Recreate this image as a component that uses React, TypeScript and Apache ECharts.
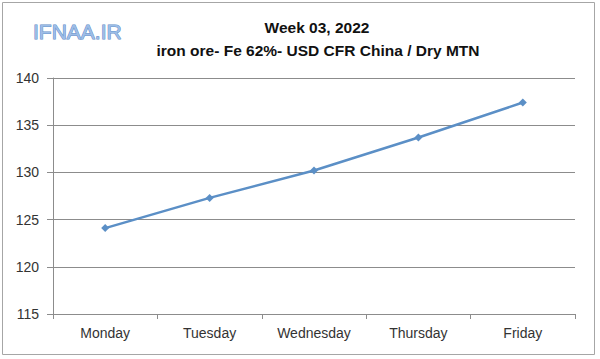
import React, { useEffect, useRef } from "react";
import * as echarts from "echarts";

const categories = ["Monday", "Tuesday", "Wednesday", "Thursday", "Friday"];
const prices = [124.1, 127.3, 130.2, 133.7, 137.4];
const yMin = 115;
const yMax = 140;
const yStep = 5;
const titleText = "Week 03, 2022";
const subtitleText = "iron ore- Fe 62%- USD CFR China / Dry MTN";
const logoText = "IFNAA.IR";

export default function App() {
  const ref = useRef<HTMLDivElement>(null);
  useEffect(() => {
    document.body.style.margin = "0";
    const chart = echarts.init(ref.current!, null, { renderer: "svg" });
    const font = "'Liberation Sans', Arial, sans-serif";
    chart.setOption({
      animation: false,
      backgroundColor: "#ffffff",
      title: [
        {
          text: titleText,
          left: 312,
          top: 14,
          textAlign: "center",
          textStyle: { fontFamily: font, fontSize: 15.5, fontWeight: "bold", color: "#111" },
        },
        {
          text: subtitleText,
          left: 313,
          top: 37,
          textAlign: "center",
          textStyle: { fontFamily: font, fontSize: 15.5, fontWeight: "bold", color: "#111" },
        },
      ],
      graphic: [
        {
          type: "rect",
          shape: { x: 2.5, y: 2.5, width: 592, height: 352 },
          style: { fill: "none", stroke: "#a6a6a6", lineWidth: 1 },
          silent: true,
        },
        {
          type: "text",
          x: 33,
          y: 21,
          style: {
            text: logoText,
            fontFamily: font,
            fontSize: 21,
            fill: "#9dbde6",
            stroke: "#5f8cc8",
            lineWidth: 1,
            shadowColor: "rgba(80,110,160,0.5)",
            shadowBlur: 2,
            shadowOffsetY: 1,
          },
          silent: true,
        },
      ],
      grid: { left: 53, right: 25, top: 78, bottom: 45, containLabel: false },
      xAxis: {
        type: "category",
        data: categories,
        boundaryGap: true,
        axisLine: { lineStyle: { color: "#8c8c8c", width: 1 } },
        axisTick: { show: true, length: 5, inside: false, lineStyle: { color: "#8c8c8c" } },
        axisLabel: { fontFamily: font, fontSize: 14, color: "#333", margin: 12 },
      },
      yAxis: {
        type: "value",
        min: yMin,
        max: yMax,
        interval: yStep,
        axisLine: { show: true, lineStyle: { color: "#8c8c8c", width: 1 } },
        axisTick: { show: true, length: 6, lineStyle: { color: "#8c8c8c" } },
        axisLabel: { fontFamily: font, fontSize: 14, color: "#333", margin: 14 },
        splitLine: { show: true, lineStyle: { color: "#8c8c8c", width: 1 } },
      },
      series: [
        {
          type: "line",
          data: prices,
          symbol: "diamond",
          symbolSize: 8,
          lineStyle: { color: "#5b8fc6", width: 2.5 },
          itemStyle: { color: "#5b8fc6" },
        },
      ],
    });
    return () => chart.dispose();
  }, []);
  return (
    <div
      ref={ref}
      style={{ position: "absolute", left: 0, top: 0, width: 600, height: 359 }}
    />
  );
}
